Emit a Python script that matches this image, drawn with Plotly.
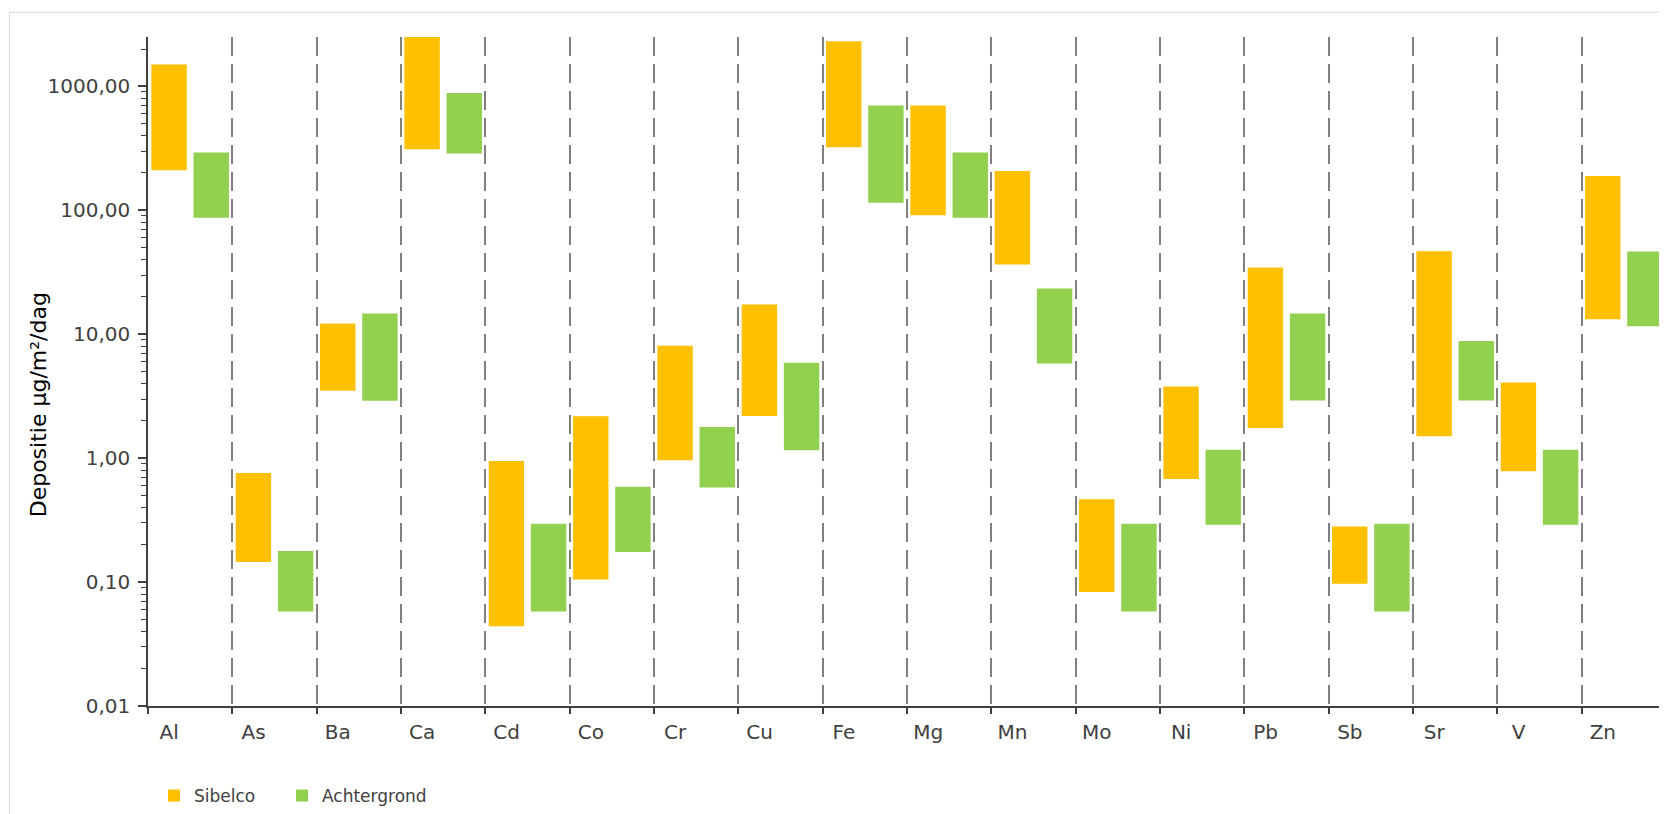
import numpy as np
import plotly.graph_objects as go

# ---- data ----
elements = ["Al", "As", "Ba", "Ca", "Cd", "Co", "Cr", "Cu", "Fe", "Mg",
            "Mn", "Mo", "Ni", "Pb", "Sb", "Sr", "V", "Zn"]

sibelco_low = [210, 0.145, 3.5, 310, 0.044, 0.105, 0.96, 2.19, 322, 91,
               36.5, 0.083, 0.68, 1.75, 0.097, 1.50, 0.785, 13.2]
sibelco_high = [1500, 0.76, 12.2, 2600, 0.95, 2.18, 8.05, 17.4, 2306, 699,
                207, 0.466, 3.79, 34.5, 0.281, 46.7, 4.08, 189]

achter_low = [87, 0.058, 2.9, 287, 0.058, 0.175, 0.58, 1.16, 115, 87,
              5.8, 0.058, 0.29, 2.92, 0.058, 2.92, 0.29, 11.6]
achter_high = [292, 0.178, 14.7, 883, 0.295, 0.588, 1.78, 5.87, 699, 292,
               23.4, 0.295, 1.17, 14.7, 0.295, 8.83, 1.17, 46.4]

y_tickvals = [0.01, 0.1, 1, 10, 100, 1000]
y_ticktext = ["0,01", "0,10", "1,00", "10,00", "100,00", "1000,00"]
y_max = 2500
y_title = "Depositie µg/m²/dag"

series_names = ["Sibelco", "Achtergrond"]
series_colors = ["#FFC000", "#92D050"]

# ---- figure ----
FONT = "DejaVu Sans"
TXT = "#404040"
AX = "#404040"

W, H = 1667, 814
OFF = 8  # page body margin offset
# target plot area in page pixels: x 148..1666, y 37..706
L = 148 - OFF
T = 37 - OFF
R = W - (1666 - OFF)
B = H - (706 - OFF)
PW = W - L - R
PH = H - T - B

fig = go.Figure()
fig.add_trace(go.Bar(
    x=elements,
    y=np.array(sibelco_high, float) - np.array(sibelco_low, float),
    base=sibelco_low, name=series_names[0], legend="legend",
    marker=dict(color=series_colors[0], line=dict(width=0)),
))
fig.add_trace(go.Bar(
    x=elements,
    y=np.array(achter_high, float) - np.array(achter_low, float),
    base=achter_low, name=series_names[1], legend="legend2",
    marker=dict(color=series_colors[1], line=dict(width=0)),
))

minor_vals = [m * 10.0 ** e for e in range(-2, 4) for m in range(2, 10)
              if m * 10.0 ** e < y_max]

leg_common = dict(
    orientation="h", xref="container", yref="container",
    xanchor="left", y=(H - (796 - OFF)) / H, yanchor="middle",
    font=dict(size=17, family=FONT, color=TXT),
    bgcolor="rgba(0,0,0,0)",
)

fig.update_layout(
    width=W, height=H, autosize=False,
    margin=dict(l=L, r=R, t=T, b=B, pad=0),
    paper_bgcolor="white", plot_bgcolor="white",
    barmode="group", bargap=0.0, bargroupgap=0.16,
    font=dict(family=FONT, color=TXT),
    showlegend=True,
    legend=dict(x=(174 - 28) / W, **leg_common),
    legend2=dict(x=(302 - 28) / W, **leg_common),
    xaxis=dict(
        type="category", tickson="boundaries",
        showline=True, linecolor=AX, linewidth=1.5,
        ticks="outside", ticklen=6, tickwidth=1.5, tickcolor=AX,
        showgrid=True, gridcolor="#808080", gridwidth=2, griddash="19px,8px",
        tickfont=dict(size=20, family=FONT, color=TXT),
        ticklabelshift=-21, ticklabelstandoff=7,
        automargin=False, fixedrange=True,
    ),
    yaxis=dict(
        type="log", range=[np.log10(0.01), np.log10(y_max)],
        tickmode="array", tickvals=y_tickvals, ticktext=y_ticktext,
        showline=True, linecolor=AX, linewidth=1.5,
        ticks="outside", ticklen=8, tickwidth=1.5, tickcolor=AX,
        showgrid=False, zeroline=False,
        tickfont=dict(size=20, family=FONT, color=TXT),
        ticklabelstandoff=4,
        minor=dict(tickmode="array", tickvals=minor_vals, ticks="outside",
                   ticklen=5, tickwidth=1.2, tickcolor=AX, showgrid=False),
        automargin=False, fixedrange=True,
    ),
    annotations=[dict(
        text=y_title, textangle=-90, showarrow=False,
        xref="paper", yref="paper",
        x=(38.3 - OFF - L) / PW, y=(H - B - (405 - OFF)) / PH,
        xanchor="center", yanchor="middle",
        font=dict(size=22, family=FONT, color="#000000"),
    )],
    shapes=[dict(
        type="rect", xref="paper", yref="paper", layer="below",
        x0=(9.5 - OFF - L) / PW, x1=1.2,
        y0=-0.5, y1=1 + (T - (12.3 - OFF)) / PH,
        line=dict(color="#D9D9D9", width=1), fillcolor="rgba(0,0,0,0)",
    )],
)

fig.write_html("out.html")
